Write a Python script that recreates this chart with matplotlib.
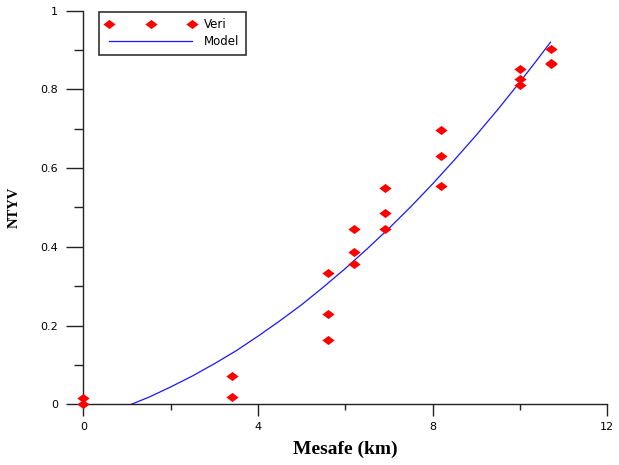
import numpy as np
import matplotlib
matplotlib.use('Agg')
import matplotlib.pyplot as plt
from matplotlib.ticker import MultipleLocator, FuncFormatter

# Measured data (distance in km vs NTYV)
mesafe = [0.0, 0.0, 3.4, 3.4, 5.6, 5.6, 5.6, 6.2, 6.2, 6.2, 6.9, 6.9, 6.9,
          8.2, 8.2, 8.2, 10.0, 10.0, 10.0, 10.7, 10.7, 10.7]
ntyv = [0.0, 0.016, 0.073, 0.019, 0.334, 0.229, 0.164, 0.445, 0.387, 0.357,
        0.549, 0.486, 0.445, 0.697, 0.632, 0.555, 0.851, 0.826, 0.811,
        0.903, 0.868, 0.864]

# Model curve
model_x = [1.1, 1.5, 2, 2.5, 3, 3.5, 4, 4.5, 5, 5.5, 6, 6.5, 7, 7.5,
           8, 8.5, 9, 9.5, 10, 10.35, 10.7]
model_y = [0.0, 0.018, 0.044, 0.072, 0.103, 0.136, 0.173, 0.212, 0.253, 0.298,
           0.345, 0.395, 0.447, 0.502, 0.560, 0.621, 0.684, 0.750, 0.819,
           0.869, 0.920]

x_major = [0, 4, 8, 12]
y_major = [0, 0.2, 0.4, 0.6, 0.8, 1]

# flat diamond marker
diamond = [(-1, 0), (0, 0.75), (1, 0), (0, -0.75), (-1, 0)]

fig = plt.figure(figsize=(6.19, 4.65), dpi=100)
ax = fig.add_axes([83.3 / 619, 1 - 404.3 / 465, (607.3 - 83.3) / 619, (404.3 - 10.7) / 465])

ax.plot(mesafe, ntyv, linestyle='none', marker=diamond, markersize=8.8,
        color='#FF0000', markeredgewidth=0, label='Veri', clip_on=False, zorder=3)
ax.plot(model_x, model_y, color='#1818FF', linewidth=0.9, label='Model', zorder=2)

ax.set_xlim(0, 12)
ax.set_ylim(0, 1)
ax.set_xticks(x_major)
ax.set_yticks(y_major)
ax.xaxis.set_minor_locator(MultipleLocator(2))
ax.yaxis.set_minor_locator(MultipleLocator(0.1))
ax.yaxis.set_major_formatter(FuncFormatter(lambda v, p: f'{v:g}'))

for s in ['top', 'right']:
    ax.spines[s].set_visible(False)
for s in ['left', 'bottom']:
    ax.spines[s].set_linewidth(1.0)
    ax.spines[s].set_color('#222222')

ax.tick_params(axis='y', which='major', direction='out', length=12, width=1, pad=6, labelsize=8, colors='#222222')
ax.tick_params(axis='y', which='minor', direction='out', length=6.5, width=1, colors='#222222')
ax.tick_params(axis='x', which='major', direction='out', length=8.6, width=1, pad=4.5, labelsize=8, colors='#222222')
ax.tick_params(axis='x', which='minor', direction='out', length=4.3, width=1, colors='#222222')
for lab in ax.get_xticklabels() + ax.get_yticklabels():
    lab.set_color('black')

ax.set_xlabel('Mesafe (km)', fontsize=14, fontweight='bold', family='Liberation Serif', labelpad=6)
ax.set_ylabel('NTYV', fontsize=10.5, fontweight='bold', family='Liberation Serif', labelpad=14)

leg = ax.legend(loc='upper left', bbox_to_anchor=(99.3 / 619, 1 - 11.7 / 465),
                bbox_transform=fig.transFigure, borderaxespad=0, numpoints=3,
                handlelength=7.6, handletextpad=0.7, borderpad=0.55, labelspacing=0.35,
                fancybox=False, framealpha=1, prop={'size': 8.5})
leg.get_frame().set_edgecolor('#333333')
leg.get_frame().set_linewidth(1.2)

fig.savefig('out.png', dpi=100)
